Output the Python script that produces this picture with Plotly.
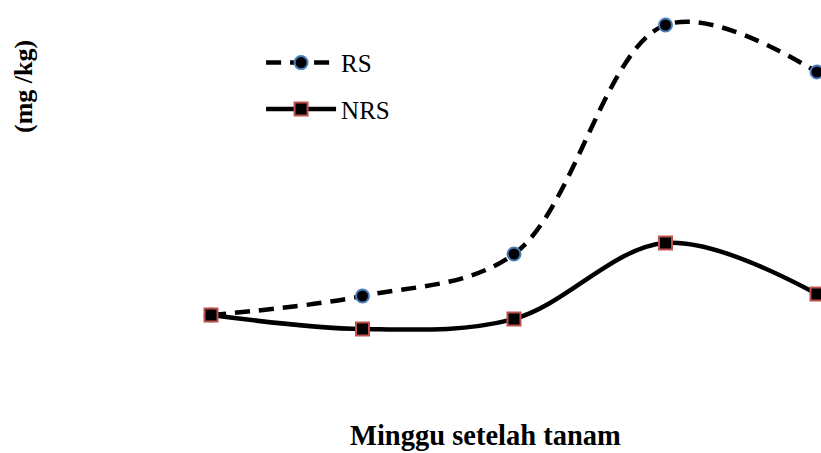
import plotly.graph_objects as go

weeks = [1, 2, 3, 4, 5]
rs_values = [4.5, 6.4, 10.6, 33.5, 28.8]
nrs_values = [4.5, 3.1, 4.1, 11.7, 6.6]

fig = go.Figure()
fig.add_trace(go.Scatter(
    x=weeks, y=rs_values, name="RS", mode="lines+markers",
    line=dict(color="black", width=4.5, dash="15px,9px", shape="spline", smoothing=1.0),
    marker=dict(symbol="circle", size=13, color="black", line=dict(color="#4a7ebb", width=2)),
    legendgroup="a",
))
fig.add_trace(go.Scatter(
    x=weeks, y=nrs_values, name="NRS", mode="lines+markers",
    line=dict(color="black", width=4.5, shape="spline", smoothing=1.0),
    marker=dict(symbol="square", size=13, color="black", line=dict(color="#c0504d", width=2)),
    legendgroup="b",
))

fig.update_layout(
    width=821, height=453,
    margin=dict(l=0, r=0, t=0, b=0),
    paper_bgcolor="white", plot_bgcolor="white",
    xaxis=dict(range=[1 - 211 / 151.5, 1 + 610 / 151.5], visible=False),
    yaxis=dict(range=[-9.3, 36.0], visible=False),
    showlegend=True,
    legend=dict(x=0.318, y=0.912, xanchor="left", yanchor="top",
                font=dict(family="Liberation Serif", size=25, color="black"),
                bgcolor="rgba(0,0,0,0)", tracegroupgap=11, itemwidth=70),
    font=dict(family="Liberation Serif", color="black"),
    annotations=[
        dict(text="<b>Minggu setelah tanam</b>", xref="paper", yref="paper",
             x=485 / 821, y=1 - 435 / 453, xanchor="center", yanchor="middle",
             showarrow=False, font=dict(family="Liberation Serif", size=28.5, color="black")),
        dict(text="<b>(mg /kg)</b>", xref="paper", yref="paper",
             x=24 / 821, y=1 - 87 / 453, xanchor="center", yanchor="middle", textangle=-90,
             showarrow=False, font=dict(family="Liberation Serif", size=26, color="black")),
    ],
)

fig.write_html("out.html", config={"displayModeBar": False},
               post_script="document.body.style.margin='0';")
